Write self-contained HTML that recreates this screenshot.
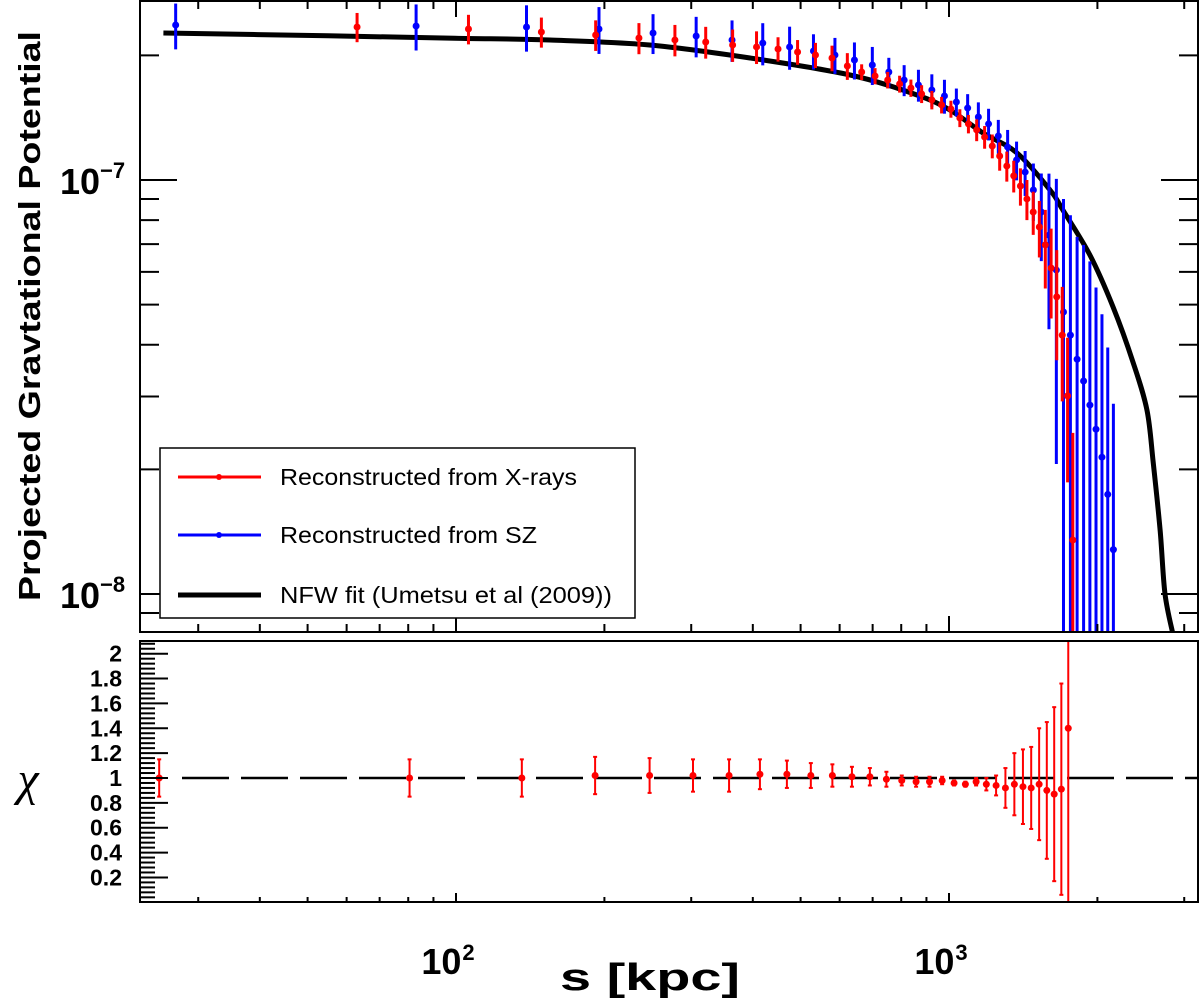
<!DOCTYPE html>
<html><head><meta charset="utf-8"><style>
html,body{margin:0;padding:0;background:#fff;}
svg{display:block;font-family:"Liberation Sans",Arial,sans-serif;}
</style></head><body>
<svg id="chart" width="1200" height="998" viewBox="0 0 1200 998" xmlns="http://www.w3.org/2000/svg">
<defs>
<clipPath id="clipTop"><rect x="140" y="1" width="1058" height="631"/></clipPath>
<clipPath id="clipBot"><rect x="140" y="641" width="1058" height="261"/></clipPath>
</defs>
<rect x="0" y="0" width="1200" height="998" fill="#fff"/>
<g id="topMarks" clip-path="url(#clipTop)"></g>
<g id="botMarks" clip-path="url(#clipBot)"></g>
<g id="axes"></g>
<rect x="140" y="1" width="1058" height="631" fill="none" stroke="#000" stroke-width="2"/>
<rect x="140" y="641" width="1058" height="261" fill="none" stroke="#000" stroke-width="2"/>

<g>
<rect x="160" y="448" width="475" height="170" fill="#fff" stroke="#000" stroke-width="1.5"/>
<g>
<line x1="178" y1="477" x2="261" y2="477" stroke="#f00" stroke-width="3"/><circle cx="219" cy="477" r="3" fill="#f00"/>
<text x="280" y="485" font-size="23" fill="#000" textLength="297" lengthAdjust="spacingAndGlyphs">Reconstructed from X-rays</text></g>
<g>
<line x1="178" y1="535" x2="261" y2="535" stroke="#00f" stroke-width="3"/><circle cx="219" cy="535" r="3" fill="#00f"/>
<text x="280" y="543" font-size="23" fill="#000" textLength="257" lengthAdjust="spacingAndGlyphs">Reconstructed from SZ</text></g>
<g>
<line x1="178" y1="595" x2="261" y2="595" stroke="#000" stroke-width="5"/>
<text x="280" y="603" font-size="23" fill="#000" textLength="332" lengthAdjust="spacingAndGlyphs">NFW fit (Umetsu et al (2009))</text></g>
</g>

<text x="40" y="316" font-size="31" font-weight="bold" text-anchor="middle" textLength="570" lengthAdjust="spacingAndGlyphs" transform="rotate(-90 40 316)">Projected Gravtational Potential</text>
<text x="28" y="795" font-size="48" font-style="italic" text-anchor="middle" font-family="Liberation Serif,serif">χ</text>
<text x="650" y="990" font-size="38" font-weight="bold" text-anchor="middle" textLength="180" lengthAdjust="spacingAndGlyphs">s [kpc]</text>
</svg>
<script>
// ---- data ----
const xrayS = [63,106,149,192,235,278,321,364,407,450,493,536,579,622,665,708,751,794,837,880,923,966,1009,1052,1095,1138,1181,1224,1267,1310,1353,1396,1439,1482,1525,1568,1611,1654,1697,1740,1783];
const xrayPhi = [2.342,2.316,2.278,2.240,2.203,2.179,2.154,2.119,2.096,2.072,2.038,2.004,1.971,1.885,1.823,1.783,1.744,1.706,1.668,1.614,1.561,1.518,1.484,1.412,1.366,1.321,1.270,1.208,1.143,1.081,1.023,0.967,0.900,0.837,0.770,0.697,0.613,0.522,0.422,0.301,0.135]; // x1e-7
const xrayErr = [0.19,0.19,0.19,0.19,0.19,0.19,0.19,0.19,0.19,0.14,0.14,0.14,0.14,0.14,0.08,0.08,0.08,0.08,0.08,0.08,0.08,0.07,0.07,0.07,0.07,0.08,0.08,0.08,0.09,0.09,0.09,0.10,0.10,0.10,0.12,0.15,0.15,0.155,0.13,0.115,0.11];
const szS = [27,83,139,195,251,307,363,419,475,531,587,643,699,755,811,867,923,979,1035,1091,1147,1203,1259,1315,1371,1427,1483,1539,1595,1651,1707,1763,1819,1875,1931,1987,2043,2099,2155];
const szPhi = [2.368,2.355,2.342,2.316,2.265,2.228,2.179,2.142,2.096,2.049,2.004,1.949,1.896,1.823,1.744,1.696,1.650,1.596,1.543,1.492,1.420,1.366,1.277,1.201,1.118,1.045,0.946,0.837,0.736,0.606,0.480,0.422,0.369,0.327,0.286,0.250,0.214,0.174,0.128]; // x1e-7
const szErr = [0.30,0.30,0.30,0.30,0.25,0.25,0.25,0.25,0.25,0.20,0.20,0.20,0.20,0.15,0.15,0.15,0.15,0.15,0.12,0.12,0.12,0.12,0.12,0.12,0.12,0.13,0.15,0.20,0.30,0.40,0.42,0.40,0.36,0.37,0.35,0.30,0.26,0.22,0.16];
const nfwS = [25.5,55,99.5,155,247,395,630,861,1004,1172,1374,1603,1702,1931,2151,2362,2521,2595,2681,2743,2846];
const nfwPhi = [2.265,2.23,2.20,2.178,2.119,1.971,1.793,1.604,1.476,1.299,1.162,0.946,0.846,0.659,0.494,0.363,0.278,0.208,0.142,0.100,0.080]; // x1e-7
const chiS = [25,80.5,136,191.5,247,302.5,358,413.5,469,524.5,580,635.5,691,746.5,802,857.5,913,968.5,1024,1079.5,1135,1190.5,1246,1301.5,1357,1412.5,1468,1523.5,1579,1634.5,1690,1745.5];
const chiVal = [1.00,1.00,1.00,1.02,1.02,1.02,1.02,1.03,1.03,1.02,1.02,1.01,1.01,0.99,0.98,0.97,0.97,0.98,0.96,0.95,0.97,0.95,0.94,0.92,0.95,0.93,0.92,0.95,0.90,0.87,0.91,1.40];
const chiErr = [0.15,0.15,0.15,0.15,0.14,0.13,0.13,0.12,0.11,0.10,0.09,0.08,0.07,0.06,0.04,0.04,0.04,0.03,0.02,0.02,0.03,0.05,0.08,0.16,0.25,0.30,0.33,0.45,0.55,0.70,0.85,1.5];
const xMajorTicks = [100,1000];
const xMajorLabels = ["2","3"];
const yTopMajor = [1e-7,1e-8];
const yTopLabels = ["−7","−8"];
const chiLabels = [0.2,0.4,0.6,0.8,1,1.2,1.4,1.6,1.8,2];

// ---- scales ----
const NS="http://www.w3.org/2000/svg";
function xs(s){return 456+493*(Math.log10(s)-2);}
function yTop(v){return 180-414*Math.log10(v/1e-7);}
function yChi(c){return 778-124.3*(c-1);}
function mk(tag,attrs,parent){const e=document.createElementNS(NS,tag);for(const k in attrs)e.setAttribute(k,attrs[k]);parent.appendChild(e);return e;}
const topG=document.getElementById('topMarks'), botG=document.getElementById('botMarks'), axesG=document.getElementById('axes');

// NFW curve (smooth through points)
const pts=nfwS.map((s,i)=>[xs(s),yTop(nfwPhi[i]*1e-7)]);
let d='M'+pts[0][0].toFixed(1)+' '+pts[0][1].toFixed(1);
for(let i=0;i<pts.length-1;i++){
  const p0=pts[Math.max(i-1,0)],p1=pts[i],p2=pts[i+1],p3=pts[Math.min(i+2,pts.length-1)];
  const c1x=p1[0]+(p2[0]-p0[0])/6,c1y=p1[1]+(p2[1]-p0[1])/6,c2x=p2[0]-(p3[0]-p1[0])/6,c2y=p2[1]-(p3[1]-p1[1])/6;
  d+='C'+c1x.toFixed(1)+' '+c1y.toFixed(1)+' '+c2x.toFixed(1)+' '+c2y.toFixed(1)+' '+p2[0].toFixed(1)+' '+p2[1].toFixed(1);
}
const nfw=mk('path',{d:d,fill:'none',stroke:'#000','stroke-width':5,'stroke-linejoin':'round'},topG);



function series(S,V,E,color,name){
  for(let i=0;i<S.length;i++){
    const x=xs(S[i]);
    const v=V[i]*1e-7,e=E[i]*1e-7;
    const y1=yTop(v+e);
    const y2=(v-e)>1e-10?yTop(v-e):700;
    const g=mk('g',{},topG);
    
    
    mk('line',{x1:x,x2:x,y1:y1,y2:Math.min(y2,700),stroke:color,'stroke-width':3},g);
    mk('circle',{cx:x,cy:yTop(v),r:3.5,fill:color},g);
  }
}
series(szS,szPhi,szErr,'#00f','sz');
series(xrayS,xrayPhi,xrayErr,'#f00','xray');

// chi reference dashed line
const ref=mk('line',{x1:182,x2:1198,y1:yChi(1),y2:yChi(1),stroke:'#000','stroke-width':2.5,'stroke-dasharray':'47 12'},botG);


for(let i=0;i<chiS.length;i++){
  const x=xs(chiS[i]);
  const g=mk('g',{},botG);
  
  
  const yu=yChi(chiVal[i]+chiErr[i]), yl=yChi(chiVal[i]-chiErr[i]);
  mk('line',{x1:x,x2:x,y1:yu,y2:yl,stroke:'#f00','stroke-width':2},g);
  mk('line',{x1:x-2,x2:x+2,y1:yu,y2:yu,stroke:'#f00','stroke-width':2},g);
  mk('line',{x1:x-2,x2:x+2,y1:yl,y2:yl,stroke:'#f00','stroke-width':2},g);
  mk('circle',{cx:x,cy:yChi(chiVal[i]),r:3.5,fill:'#f00'},g);
}

// x ticks
const xt=[];
for(let dec=10;dec<=1000;dec*=10)for(let m=1;m<10;m++){const s=dec*m;if(s>=23&&s<=3199)xt.push(s);}
xt.forEach(s=>{
  const x=xs(s),maj=(s===100||s===1000);
  mk('line',{x1:x,x2:x,y1:632,y2:632-(maj?16:8),stroke:'#000','stroke-width':2},axesG);
  mk('line',{x1:x,x2:x,y1:1,y2:1+(maj?16:8),stroke:'#000','stroke-width':2},axesG);
  mk('line',{x1:x,x2:x,y1:902,y2:902-(maj?9:5),stroke:'#000','stroke-width':2},axesG);
});
xMajorTicks.forEach((s,i)=>{
  const t=mk('text',{x:xs(s)-8,y:974,'font-size':36,'font-weight':'bold','text-anchor':'middle'},axesG);
  
  
  t.textContent='10';
  const sp=mk('tspan',{dy:-14,'font-size':22,dx:1},t);sp.textContent=xMajorLabels[i];
});
// top y ticks
const yt=[];
for(const dec of [1e-9,1e-8,1e-7])for(let m=1;m<10;m++){const v=dec*m;const y=yTop(v);if(y>=1&&y<=632)yt.push(v);}
yt.forEach(v=>{
  const y=yTop(v),maj=yTopMajor.some(a=>Math.abs(a-v)/a<1e-6);
  mk('line',{x1:140,x2:140+(maj?37:19),y1:y,y2:y,stroke:'#000','stroke-width':2},axesG);
  mk('line',{x1:1198,x2:1198-(maj?37:19),y1:y,y2:y,stroke:'#000','stroke-width':2},axesG);
});
yTopMajor.forEach((v,i)=>{
  const t=mk('text',{x:60,y:yTop(v)+14,'font-size':36,'font-weight':'bold'},axesG);
  
  
  t.textContent='10';
  const sp=mk('tspan',{dy:-16,'font-size':22},t);sp.textContent=yTopLabels[i];
});
// chi y ticks
for(let k=0;k<=52;k++){
  const c=k*0.04,y=yChi(c);if(y<641||y>902)continue;
  const maj=(k%5===0);
  mk('line',{x1:140,x2:140+(maj?28:15),y1:y,y2:y,stroke:'#000','stroke-width':2},axesG);
}
chiLabels.forEach(c=>{
  const t=mk('text',{x:122,y:yChi(c)+8,'font-size':23,'font-weight':'bold','text-anchor':'end'},axesG);
  
  
  t.textContent=String(c);
});
</script>
</body></html>
